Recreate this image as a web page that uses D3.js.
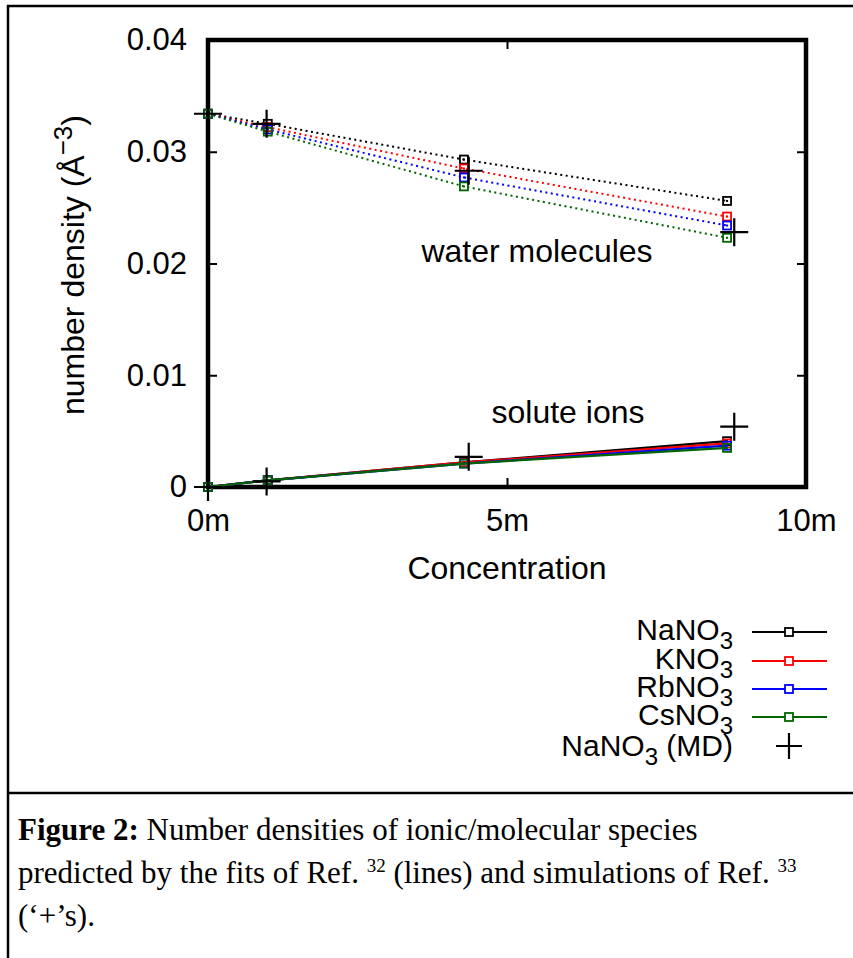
<!DOCTYPE html>
<html>
<head>
<meta charset="utf-8">
<script src="https://cdn.jsdelivr.net/npm/d3@7"></script>
<style>
  body { margin: 0; background: #fff; }
  svg { display: block; }
  .sans { font-family: "Liberation Sans", Arial, sans-serif; fill: #000; }
  .serif { font-family: "Liberation Serif", "Times New Roman", serif; fill: #000; }
</style>
</head>
<body>
<svg></svg>
<script>
// Values
let salts = ["NaNO", "KNO", "RbNO", "CsNO"];
let colors = ["#000000", "#ff0000", "#0000ff", "#006400"];

let fitConc = [0, 1.0, 4.28, 8.68];
let waterNa = [0.0334, 0.0325, 0.0293, 0.0256];
let waterK  = [0.0334, 0.0322, 0.0285, 0.0242];
let waterRb = [0.0334, 0.0320, 0.0277, 0.0234];
let waterCs = [0.0334, 0.0318, 0.0269, 0.0223];
let ionsNa = [0, 0.0006, 0.0022, 0.0041];
let ionsK  = [0, 0.0006, 0.0022, 0.0039];
let ionsRb = [0, 0.0006, 0.0021, 0.0037];
let ionsCs = [0, 0.0006, 0.0021, 0.0035];

let mdConc  = [0, 0.98, 4.36, 8.8];
let mdWater = [0.0334, 0.0325, 0.0283, 0.0228];
let mdIons  = [0, 0.0005, 0.0027, 0.0054];

let xTicks = [0, 5, 10];
let yTicks = [0, 0.01, 0.02, 0.03, 0.04];

let width = 853,
    height = 958;

let svg = d3.select("svg")
    .attr("width", width)
    .attr("height", height);

let x = d3.scaleLinear().domain([0, 10]).range([208, 806]);
let y = d3.scaleLinear().domain([0, 0.04]).range([487, 40]);

// Outer figure box and caption divider
svg.append("path")
    .attr("d", "M8,958 V6 H853 M8,793 H853")
    .style("fill", "none")
    .style("stroke", "#000")
    .style("stroke-width", 2.5);

// Axes: ticks inside, mirrored on the opposite sides
let axisStyle = g => {
    g.select(".domain").remove();
    g.selectAll(".tick line").style("stroke", "#000").style("stroke-width", 2);
    g.selectAll(".tick text")
        .attr("class", "sans")
        .style("font-size", "31px");
};

svg.append("g")
    .attr("transform", `translate(0,${y(0)})`)
    .call(d3.axisBottom(x).tickValues(xTicks).tickFormat(d => d + "m")
        .tickSizeInner(-9).tickPadding(22))
    .call(axisStyle);

svg.append("g")
    .attr("transform", `translate(0,${y(0.04)})`)
    .call(d3.axisTop(x).tickValues(xTicks).tickSizeInner(-9).tickFormat(""))
    .call(axisStyle);

svg.append("g")
    .attr("transform", `translate(${x(0)},0)`)
    .call(d3.axisLeft(y).tickValues(yTicks).tickFormat(d => d === 0 ? "0" : d3.format(".2f")(d))
        .tickSizeInner(-9).tickPadding(21))
    .call(axisStyle);

svg.append("g")
    .attr("transform", `translate(${x(10)},0)`)
    .call(d3.axisRight(y).tickValues(yTicks).tickSizeInner(-9).tickFormat(""))
    .call(axisStyle);

// Thick frame
svg.append("rect")
    .attr("x", x(0))
    .attr("y", y(0.04))
    .attr("width", x(10) - x(0))
    .attr("height", y(0) - y(0.04))
    .style("fill", "none")
    .style("stroke", "#000")
    .style("stroke-width", 4.5);

// Axis titles
svg.append("text")
    .attr("class", "sans")
    .attr("x", (x(0) + x(10)) / 2)
    .attr("y", 579)
    .attr("text-anchor", "middle")
    .style("font-size", "32px")
    .text("Concentration");

let yTitle = svg.append("text")
    .attr("class", "sans")
    .attr("transform", `translate(84,265) rotate(-90)`)
    .attr("text-anchor", "middle")
    .style("font-size", "32px");
yTitle.append("tspan").text("number density (Å");
yTitle.append("tspan").attr("dy", -12).style("font-size", "26px").text("−3");
yTitle.append("tspan").attr("dy", 12).text(")");

// Series
let water = [waterNa, waterK, waterRb, waterCs];
let ions = [ionsNa, ionsK, ionsRb, ionsCs];

let line = d3.line()
    .x(d => x(d[0]))
    .y(d => y(d[1]));

let pairs = vals => fitConc.map((c, i) => [c, vals[i]]);

function drawSquares(g, pts, color) {
    g.selectAll(null)
        .data(pts)
        .enter().append("rect")
        .attr("x", d => x(d[0]) - 4)
        .attr("y", d => y(d[1]) - 4)
        .attr("width", 8)
        .attr("height", 8)
        .style("fill", "none")
        .style("stroke", color)
        .style("stroke-width", 1.8);
    g.selectAll(null)
        .data(pts)
        .enter().append("rect")
        .attr("x", d => x(d[0]) - 1)
        .attr("y", d => y(d[1]) - 1)
        .attr("width", 2)
        .attr("height", 2)
        .style("fill", color);
}

water.forEach((vals, i) => {
    let g = svg.append("g");
    g.append("path")
        .attr("d", line(pairs(vals)))
        .style("fill", "none")
        .style("stroke", colors[i])
        .style("stroke-width", 2)
        .style("stroke-dasharray", "2,3.5");
    drawSquares(g, pairs(vals), colors[i]);
});

ions.forEach((vals, i) => {
    let g = svg.append("g");
    g.append("path")
        .attr("d", line(pairs(vals)))
        .style("fill", "none")
        .style("stroke", colors[i])
        .style("stroke-width", 2.2);
    drawSquares(g, pairs(vals), colors[i]);
});

// MD crosses
function drawCross(g, cx, cy, r) {
    g.append("path")
        .attr("d", `M${cx - r},${cy} H${cx + r} M${cx},${cy - r} V${cy + r}`)
        .style("stroke", "#000")
        .style("stroke-width", 2.2);
}

let md = svg.append("g");
mdConc.forEach((c, i) => {
    drawCross(md, x(c), y(mdWater[i]), 14);
    drawCross(md, x(c), y(mdIons[i]), 14);
});

// Annotations
svg.append("text")
    .attr("class", "sans")
    .attr("x", 537)
    .attr("y", 262)
    .attr("text-anchor", "middle")
    .style("font-size", "32px")
    .text("water molecules");

svg.append("text")
    .attr("class", "sans")
    .attr("x", 568)
    .attr("y", 423)
    .attr("text-anchor", "middle")
    .style("font-size", "32px")
    .text("solute ions");

// Legend
let legendY = [632, 661, 689, 717];
salts.forEach((s, i) => {
    let t = svg.append("text")
        .attr("class", "sans")
        .attr("x", 733)
        .attr("y", legendY[i] + 8)
        .attr("text-anchor", "end")
        .style("font-size", "30px");
    t.append("tspan").text(s);
    t.append("tspan").attr("dy", 9).style("font-size", "24px").text("3");

    svg.append("line")
        .attr("x1", 752).attr("x2", 827)
        .attr("y1", legendY[i]).attr("y2", legendY[i])
        .style("stroke", colors[i])
        .style("stroke-width", 2.2);
    svg.append("rect")
        .attr("x", 785).attr("y", legendY[i] - 4)
        .attr("width", 8).attr("height", 8)
        .style("fill", "#fff")
        .style("stroke", colors[i])
        .style("stroke-width", 1.8);
});

let mdText = svg.append("text")
    .attr("class", "sans")
    .attr("x", 733)
    .attr("y", 756)
    .attr("text-anchor", "end")
    .style("font-size", "30px");
mdText.append("tspan").text("NaNO");
mdText.append("tspan").attr("dy", 9).style("font-size", "24px").text("3");
mdText.append("tspan").attr("dy", -9).text(" (MD)");
drawCross(svg, 789, 746, 13);

// Caption
let cap = svg.append("g").attr("class", "serif").style("font-size", "31px");
let c1 = cap.append("text").attr("x", 18).attr("y", 840);
c1.append("tspan").style("font-weight", "bold").text("Figure 2:");
c1.append("tspan").text(" Number densities of ionic/molecular species");

let c2 = cap.append("text").attr("x", 18).attr("y", 883);
c2.append("tspan").text("predicted by the fits of Ref. ");
c2.append("tspan").attr("dy", -11).style("font-size", "19px").text("32");
c2.append("tspan").attr("dy", 11).text(" (lines) and simulations of Ref. ");
c2.append("tspan").attr("dy", -11).style("font-size", "19px").text("33");

cap.append("text").attr("x", 18).attr("y", 926).text("(‘+’s).");
</script>
</body>
</html>
